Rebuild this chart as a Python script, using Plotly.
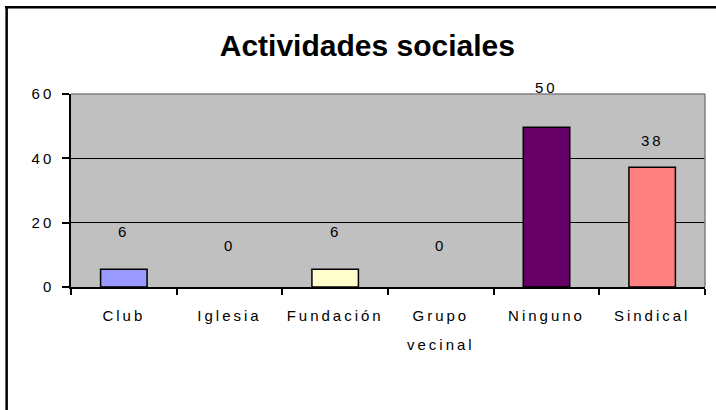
import plotly.graph_objects as go

categories = ["Club", "Iglesia", "Fundación", "Grupo vecinal", "Ninguno", "Sindical"]
tick_labels = ["Club", "Iglesia", "Fundación", "Grupo", "Ninguno", "Sindical"]
values = [5.5, 0, 5.5, 0, 49.7, 37.2]
value_labels = ["6", "0", "6", "0", "50", "38"]
y_ticks = [0, 20, 40, 60]

colors = ["#9999FF", "#993366", "#FFFFCC", "#CCFFFF", "#660066", "#FF8080"]
label_offsets = [38, 42, 38, 42, 40, 27]

FONT = "Liberation Sans, Arial, sans-serif"
LS = 3


def spaced(t):
    return f'<span style="letter-spacing:{LS}px">{t}</span>'


fig = go.Figure()
fig.add_trace(go.Bar(
    x=categories, y=values, width=0.44,
    marker=dict(color=colors, line=dict(color="black", width=[1.5 if v > 0 else 0 for v in values])),
    hoverinfo="skip",
))

for c, v, lab, off in zip(categories, values, value_labels, label_offsets):
    fig.add_annotation(x=c, y=v, text=spaced(lab), showarrow=False, yshift=off,
                       yanchor="middle", font=dict(family=FONT, size=15, color="black"))

fig.add_annotation(x="Grupo vecinal", y=-0.30, yref="paper", text=spaced("vecinal"), showarrow=False,
                   yanchor="middle", font=dict(family=FONT, size=15, color="black"))

# plot area gray border (top/right)
fig.add_shape(type="line", xref="paper", yref="paper", x0=0, x1=1, y0=1, y1=1,
              line=dict(color="#808080", width=1.5), layer="above")
fig.add_shape(type="line", xref="paper", yref="paper", x0=1, x1=1, y0=0, y1=1,
              line=dict(color="#808080", width=1.5), layer="above")
# outer chart border (top/left visible)
fig.add_shape(type="line", xref="paper", yref="paper", x0=-0.104, x1=1.1, y0=1.45, y1=1.45,
              line=dict(color="black", width=2.5), layer="above")
fig.add_shape(type="line", xref="paper", yref="paper", x0=-0.1015, x1=-0.1015, y0=1.456, y1=-0.7,
              line=dict(color="black", width=2.5), layer="above")

fig.update_layout(
    width=716, height=410,
    margin=dict(l=71, r=11, t=94, b=123),
    paper_bgcolor="white", plot_bgcolor="#C0C0C0",
    showlegend=False,
    font=dict(family=FONT, size=15, color="black"),
    title=dict(text="<b>Actividades sociales</b>", x=0.513, xanchor="center", y=0.89, yanchor="middle",
               font=dict(family=FONT, size=30, color="black")),
    bargap=0.56,
)
fig.update_xaxes(
    tickmode="array", tickvals=categories, ticktext=[spaced(t) for t in tick_labels],
    tickson="boundaries", ticks="outside", ticklen=6, tickwidth=1.5, tickcolor="black",
    showline=True, linecolor="black", linewidth=1.5, showgrid=False,
    ticklabelstandoff=14, tickangle=0, fixedrange=True,
)
fig.update_yaxes(
    range=[0, 60], tickmode="array", tickvals=y_ticks, ticktext=[spaced(str(t)) for t in y_ticks],
    ticks="outside", ticklen=7, tickwidth=1.5, tickcolor="black",
    showline=True, linecolor="black", linewidth=1.5,
    showgrid=True, gridcolor="black", gridwidth=1.2, zeroline=False,
    ticklabelstandoff=5, fixedrange=True,
)

fig.write_html("out.html", config={"displayModeBar": False},
               post_script="document.body.style.margin='0';document.body.style.overflow='hidden';")
